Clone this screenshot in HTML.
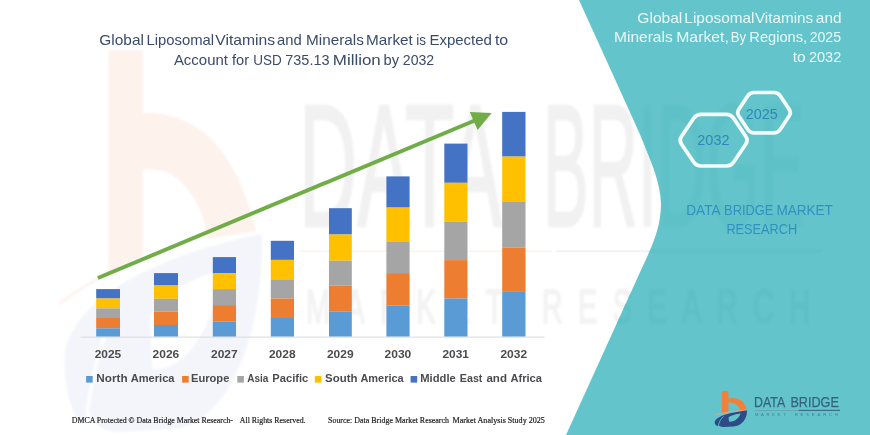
<!DOCTYPE html>
<html lang="en">
<head>
<meta charset="utf-8">
<title>Global Liposomal Vitamins and Minerals Market</title>
<style>
html,body{margin:0;padding:0;background:#fff;}
body{width:870px;height:435px;overflow:hidden;position:relative;font-family:"Liberation Sans",sans-serif;}
svg{position:absolute;left:0;top:0;display:block;}
.sans{font-family:"Liberation Sans",sans-serif;}
.serif{font-family:"Liberation Serif",serif;}
</style>
</head>
<body>
<svg width="870" height="435" viewBox="0 0 870 435">
<rect width="870" height="435" fill="#ffffff"/>

<!-- faint watermark: big b logo -->
<defs><filter id="soft" x="-5%" y="-5%" width="110%" height="110%"><feGaussianBlur stdDeviation="0.9"/></filter></defs>
<g filter="url(#soft)">
<path d="M108.3 50.3 H142.8 V113.4 C165 111 196 121 214.5 142.4 C232 162 247 192 256 231 L207 239 C205 212 191 187 170.3 173.5 C162 169.5 152 169 142.8 170 V256 L108.3 272 Z" fill="#FDF2EC"/>
<path d="M59 304 C80 288 100 277 118 268" fill="none" stroke="#FDF3EE" stroke-width="3"/>
<g transform="translate(262,234) scale(6.1,12) translate(-747,-410.4)">
<path d="M714.7 420.2 C716.5 415.5 731 412 747 410.4 C747.3 418.5 742 425.6 733.5 426.6 L723.5 426.9 C720.5 426.9 719 426 718.6 425 L717.6 426.3 C715.5 425.5 714.3 422.5 714.7 420.2 Z M728.6 417.3 L729 421.6 C733 422 738.5 419.5 740.6 413.4 C735.5 414 731 415.3 728.6 417.3 Z" fill="#F3F5FA" fill-rule="evenodd"/>
<path d="M718.3 425.6 C719.2 421.5 721 418.6 723.6 416.3" fill="none" stroke="#ffffff" stroke-width="0.5"/>
</g>
</g>
<!-- faint watermark text -->
<g class="sans" fill="#F1F1F1" stroke="#F1F1F1" stroke-width="2.5" stroke-linejoin="round" filter="url(#soft)">
<text x="299" y="226" font-size="174" textLength="203" lengthAdjust="spacingAndGlyphs">DATA</text>
<text x="543" y="226" font-size="174" textLength="262" lengthAdjust="spacingAndGlyphs">BRIDGE</text>
<text transform="translate(306,323) scale(0.6,1)" font-size="48" textLength="840" lengthAdjust="spacing" fill="#F3F3F3" stroke="#F3F3F3" stroke-width="2">MARKET RESEARCH</text>
</g>
<rect x="300" y="250.6" width="252" height="1.2" fill="#FCEFE6"/>
<rect x="556" y="250.4" width="110" height="1.6" fill="#EEF0F5"/>

<!-- teal panel -->
<path id="teal" d="M579 0 L633.5 120 C645 146 661 180 661 204 C661 232 648 254 636.5 280 L566 435 L870 435 L870 0 Z" fill="#63C5CB"/>
<!-- watermark continuing on teal -->
<g class="sans" fill="#5FC1C8" stroke="#5FC1C8" stroke-width="2.5" clip-path="url(#tealclip)" filter="url(#soft)">
<text x="299" y="226" font-size="174" textLength="203" lengthAdjust="spacingAndGlyphs">DATA</text>
<text x="543" y="226" font-size="174" textLength="262" lengthAdjust="spacingAndGlyphs">BRIDGE</text>
<text transform="translate(306,323) scale(0.6,1)" font-size="48" textLength="840" lengthAdjust="spacing" fill="#5EC0C7" stroke="#5EC0C7" stroke-width="2">MARKET RESEARCH</text>
<rect x="556" y="250.4" width="266" height="1.6" fill="#5CBEC6" stroke="none"/>
</g>
<defs><clipPath id="tealclip"><path d="M579 0 L633.5 120 C645 146 661 180 661 204 C661 232 648 254 636.5 280 L566 435 L870 435 L870 0 Z"/></clipPath></defs>

<!-- chart -->
<rect x="80.5" y="336.6" width="464" height="1" fill="#D9D9D9"/>
<rect x="96.2" y="289.1" width="23.8" height="9.4" fill="#4472C4"/>
<rect x="96.2" y="298.5" width="23.8" height="9.9" fill="#FFC000"/>
<rect x="96.2" y="308.4" width="23.8" height="9.6" fill="#A5A5A5"/>
<rect x="96.2" y="318.0" width="23.8" height="10.3" fill="#ED7D31"/>
<rect x="96.2" y="328.3" width="23.8" height="8.2" fill="#5B9BD5"/>
<rect x="154.0" y="273.1" width="24.0" height="12.4" fill="#4472C4"/>
<rect x="154.0" y="285.5" width="24.0" height="13.3" fill="#FFC000"/>
<rect x="154.0" y="298.8" width="24.0" height="12.9" fill="#A5A5A5"/>
<rect x="154.0" y="311.7" width="24.0" height="13.3" fill="#ED7D31"/>
<rect x="154.0" y="325.0" width="24.0" height="11.5" fill="#5B9BD5"/>
<rect x="212.8" y="257.1" width="23.2" height="16.0" fill="#4472C4"/>
<rect x="212.8" y="273.1" width="23.2" height="16.0" fill="#FFC000"/>
<rect x="212.8" y="289.1" width="23.2" height="16.0" fill="#A5A5A5"/>
<rect x="212.8" y="305.1" width="23.2" height="16.3" fill="#ED7D31"/>
<rect x="212.8" y="321.4" width="23.2" height="15.1" fill="#5B9BD5"/>
<rect x="270.8" y="240.8" width="23.2" height="19.1" fill="#4472C4"/>
<rect x="270.8" y="259.9" width="23.2" height="20.1" fill="#FFC000"/>
<rect x="270.8" y="280.0" width="23.2" height="18.5" fill="#A5A5A5"/>
<rect x="270.8" y="298.5" width="23.2" height="19.5" fill="#ED7D31"/>
<rect x="270.8" y="318.0" width="23.2" height="18.5" fill="#5B9BD5"/>
<rect x="329.0" y="208.2" width="22.8" height="26.3" fill="#4472C4"/>
<rect x="329.0" y="234.5" width="22.8" height="26.2" fill="#FFC000"/>
<rect x="329.0" y="260.7" width="22.8" height="24.8" fill="#A5A5A5"/>
<rect x="329.0" y="285.5" width="22.8" height="26.2" fill="#ED7D31"/>
<rect x="329.0" y="311.7" width="22.8" height="24.8" fill="#5B9BD5"/>
<rect x="386.4" y="176.4" width="23.2" height="31.2" fill="#4472C4"/>
<rect x="386.4" y="207.6" width="23.2" height="33.8" fill="#FFC000"/>
<rect x="386.4" y="241.4" width="23.2" height="31.7" fill="#A5A5A5"/>
<rect x="386.4" y="273.1" width="23.2" height="32.3" fill="#ED7D31"/>
<rect x="386.4" y="305.4" width="23.2" height="31.1" fill="#5B9BD5"/>
<rect x="444.3" y="143.6" width="23.2" height="39.2" fill="#4472C4"/>
<rect x="444.3" y="182.8" width="23.2" height="38.7" fill="#FFC000"/>
<rect x="444.3" y="221.5" width="23.2" height="38.6" fill="#A5A5A5"/>
<rect x="444.3" y="260.1" width="23.2" height="38.4" fill="#ED7D31"/>
<rect x="444.3" y="298.5" width="23.2" height="38.0" fill="#5B9BD5"/>
<rect x="502.2" y="111.9" width="23.3" height="44.7" fill="#4472C4"/>
<rect x="502.2" y="156.6" width="23.3" height="44.8" fill="#FFC000"/>
<rect x="502.2" y="201.4" width="23.3" height="46.0" fill="#A5A5A5"/>
<rect x="502.2" y="247.4" width="23.3" height="44.5" fill="#ED7D31"/>
<rect x="502.2" y="291.9" width="23.3" height="44.6" fill="#5B9BD5"/>
<g class="sans" font-size="11.2" font-weight="bold" fill="#4C4C50">
<text x="94.68" y="358.1" textLength="26.51" lengthAdjust="spacingAndGlyphs">2025</text>
<text x="152.58" y="358.1" textLength="26.63" lengthAdjust="spacingAndGlyphs">2026</text>
<text x="210.98" y="358.1" textLength="26.70" lengthAdjust="spacingAndGlyphs">2027</text>
<text x="268.98" y="358.1" textLength="26.57" lengthAdjust="spacingAndGlyphs">2028</text>
<text x="326.98" y="358.1" textLength="26.63" lengthAdjust="spacingAndGlyphs">2029</text>
<text x="384.58" y="358.1" textLength="26.70" lengthAdjust="spacingAndGlyphs">2030</text>
<text x="442.48" y="358.1" textLength="26.51" lengthAdjust="spacingAndGlyphs">2031</text>
<text x="500.43" y="358.1" textLength="26.70" lengthAdjust="spacingAndGlyphs">2032</text>
</g>

<!-- legend -->
<g class="sans" font-size="10.9" font-weight="bold" fill="#4C4C50">
<rect x="86.1" y="376" width="6.6" height="6.6" fill="#5B9BD5"/>
<text x="96.34" y="382.3" textLength="31.28" lengthAdjust="spacingAndGlyphs">North</text>
<text x="130.72" y="382.3" textLength="43.79" lengthAdjust="spacingAndGlyphs">America</text>
<rect x="182.1" y="376" width="6.6" height="6.6" fill="#ED7D31"/>
<text x="190.98" y="382.3" textLength="38.41" lengthAdjust="spacingAndGlyphs">Europe</text>
<rect x="237.3" y="376" width="6.6" height="6.6" fill="#A5A5A5"/>
<text x="247.15" y="382.3" textLength="21.17" lengthAdjust="spacingAndGlyphs">Asia</text>
<text x="272.38" y="382.3" textLength="35.85" lengthAdjust="spacingAndGlyphs">Pacific</text>
<rect x="314.8" y="376" width="6.6" height="6.6" fill="#FFC000"/>
<text x="325.06" y="382.3" textLength="32.46" lengthAdjust="spacingAndGlyphs">South</text>
<text x="360.43" y="382.3" textLength="43.18" lengthAdjust="spacingAndGlyphs">America</text>
<rect x="410.6" y="376" width="6.6" height="6.6" fill="#4472C4"/>
<text x="420.27" y="382.3" textLength="35.54" lengthAdjust="spacingAndGlyphs">Middle</text>
<text x="459.80" y="382.3" textLength="22.63" lengthAdjust="spacingAndGlyphs">East</text>
<text x="486.45" y="382.3" textLength="20.53" lengthAdjust="spacingAndGlyphs">and</text>
<text x="510.42" y="382.3" textLength="31.56" lengthAdjust="spacingAndGlyphs">Africa</text>
</g>

<!-- arrow -->
<line x1="97.9" y1="278" x2="476" y2="119.95" stroke="#70AD47" stroke-width="3.9"/>
<polygon points="491.7,112.9 469.8,111.9 477.6,129.9" fill="#70AD47"/>

<!-- chart title -->
<g class="sans" font-size="14.8" fill="#3A4B6B">
<text x="99.33" y="45.3" textLength="44.58" lengthAdjust="spacingAndGlyphs">Global</text>
<text x="146.51" y="45.3" textLength="67.60" lengthAdjust="spacingAndGlyphs">Liposomal</text>
<text x="215.32" y="45.3" textLength="59.85" lengthAdjust="spacingAndGlyphs">Vitamins</text>
<text x="277.11" y="45.3" textLength="24.71" lengthAdjust="spacingAndGlyphs">and</text>
<text x="306.08" y="45.3" textLength="57.84" lengthAdjust="spacingAndGlyphs">Minerals</text>
<text x="366.07" y="45.3" textLength="46.82" lengthAdjust="spacingAndGlyphs">Market</text>
<text x="416.33" y="45.3" textLength="9.67" lengthAdjust="spacingAndGlyphs">is</text>
<text x="429.40" y="45.3" textLength="62.57" lengthAdjust="spacingAndGlyphs">Expected</text>
<text x="494.96" y="45.3" textLength="13.26" lengthAdjust="spacingAndGlyphs">to</text>
<text x="173.90" y="65.3" textLength="54.02" lengthAdjust="spacingAndGlyphs">Account</text>
<text x="231.98" y="65.3" textLength="17.07" lengthAdjust="spacingAndGlyphs">for</text>
<text x="253.29" y="65.3" textLength="28.54" lengthAdjust="spacingAndGlyphs">USD</text>
<text x="285.28" y="65.3" textLength="44.28" lengthAdjust="spacingAndGlyphs">735.13</text>
<text x="332.85" y="65.3" textLength="47.94" lengthAdjust="spacingAndGlyphs">Million</text>
<text x="383.44" y="65.3" textLength="15.58" lengthAdjust="spacingAndGlyphs">by</text>
<text x="402.79" y="65.3" textLength="31.41" lengthAdjust="spacingAndGlyphs">2032</text>
</g>

<!-- footer -->
<g class="serif" font-size="8.5" fill="#1c1c1c" stroke="#1c1c1c" stroke-width="0.2">
<text x="71.7" y="422.7" textLength="161.3" lengthAdjust="spacingAndGlyphs">DMCA Protected © Data Bridge Market Research-</text>
<text x="239.8" y="422.7" textLength="65.8" lengthAdjust="spacingAndGlyphs">All Rights Reserved.</text>
<text x="328" y="422.7" textLength="121" lengthAdjust="spacingAndGlyphs">Source: Data Bridge Market Research</text>
<text x="452.6" y="422.7" textLength="92.3" lengthAdjust="spacingAndGlyphs">Market Analysis Study 2025</text>
</g>

<!-- right panel title -->
<g class="sans" font-size="14.8" fill="#EAF8F9">
<text x="637.32" y="22.7" textLength="45.00" lengthAdjust="spacingAndGlyphs">Global</text>
<text x="684.37" y="22.7" textLength="70.18" lengthAdjust="spacingAndGlyphs">Liposomal</text>
<text x="754.92" y="22.7" textLength="58.34" lengthAdjust="spacingAndGlyphs">Vitamins</text>
<text x="815.88" y="22.7" textLength="25.67" lengthAdjust="spacingAndGlyphs">and</text>
<text x="614.06" y="42.0" textLength="58.67" lengthAdjust="spacingAndGlyphs">Minerals</text>
<text x="676.24" y="42.0" textLength="52.57" lengthAdjust="spacingAndGlyphs">Market,</text>
<text x="730.65" y="42.0" textLength="15.38" lengthAdjust="spacingAndGlyphs">By</text>
<text x="749.33" y="42.0" textLength="57.85" lengthAdjust="spacingAndGlyphs">Regions,</text>
<text x="809.70" y="42.0" textLength="31.36" lengthAdjust="spacingAndGlyphs">2025</text>
<text x="792.77" y="61.8" textLength="12.94" lengthAdjust="spacingAndGlyphs">to</text>
<text x="808.98" y="61.8" textLength="32.24" lengthAdjust="spacingAndGlyphs">2032</text>
</g>

<!-- hexagons -->
<g fill="none" stroke="#F4FCFC" stroke-width="3.7" stroke-linejoin="round">
<path d="M681.42 143.93 Q678.90 140.20 681.42 136.47 L693.78 118.13 Q696.30 114.40 700.80 114.40 L726.50 114.40 Q731.00 114.40 733.52 118.13 L745.88 136.47 Q748.40 140.20 745.88 143.93 L733.52 162.27 Q731.00 166.00 726.50 166.00 L700.80 166.00 Q696.30 166.00 693.78 162.27 Z"/>
<path d="M738.81 116.03 Q736.60 112.70 738.81 109.37 L747.79 95.83 Q750.00 92.50 754.00 92.50 L774.00 92.50 Q778.00 92.50 780.21 95.83 L789.19 109.37 Q791.40 112.70 789.19 116.03 L780.21 129.57 Q778.00 132.90 774.00 132.90 L754.00 132.90 Q750.00 132.90 747.79 129.57 Z"/>
</g>
<g class="sans" font-size="14.7" fill="#2F87B7">
<text x="697.28" y="145.1" textLength="32.24" lengthAdjust="spacingAndGlyphs">2032</text>
<text x="745.78" y="118.7" textLength="32.09" lengthAdjust="spacingAndGlyphs">2025</text>
</g>

<!-- DATA BRIDGE MARKET RESEARCH -->
<g class="sans" font-size="14.4" fill="#3190BF">
<text x="686.31" y="214.8" textLength="34.24" lengthAdjust="spacingAndGlyphs">DATA</text>
<text x="724.07" y="214.8" textLength="49.40" lengthAdjust="spacingAndGlyphs">BRIDGE</text>
<text x="776.42" y="214.8" textLength="56.49" lengthAdjust="spacingAndGlyphs">MARKET</text>
<text x="726.38" y="233.7" textLength="70.86" lengthAdjust="spacingAndGlyphs">RESEARCH</text>
</g>

<!-- logo -->
<g>
<path d="M721.8 391.8 Q721.8 391.1 722.5 391.1 L727.7 391.1 Q728.4 391.1 728.4 391.8 L728.4 398.5 C736 396.6 744.3 400 746 407.6 C746.3 408.8 746.3 409.6 746.1 410.3 L740.3 411 C739.6 405.6 734 401.6 728.4 402.6 L728.4 412.3 L721.8 413 Z" fill="#F0803A"/>
<path d="M715.6 415 C722 412.6 736 410.6 746.3 410.2" fill="none" stroke="#F2A46E" stroke-width="0.9"/>
<path d="M714.7 421.6 C716.5 416 731 412 747 410.4 C747.3 418.5 742 425.6 733.5 426.6 L723.5 426.9 C720.5 426.9 719 426 718.6 425 L717.6 426.3 C715.5 425.5 714.3 423.5 714.7 421.6 Z M728.6 417.3 L729 421.6 C733 422 738.5 419.5 740.6 413.4 C735.5 414 731 415.3 728.6 417.3 Z" fill="#2D4B87" fill-rule="evenodd"/>
<path d="M718.3 425.6 C719.2 421.5 721 418.6 723.6 416.3" fill="none" stroke="#63C5CB" stroke-width="0.8"/>
</g>
<g class="sans" fill="#35637F">
<g font-size="14.8" stroke="#35637F" stroke-width="0.25">
<text x="754.01" y="407.4" textLength="31.13" lengthAdjust="spacingAndGlyphs">DATA</text>
<text x="790.39" y="407.4" textLength="48.47" lengthAdjust="spacingAndGlyphs">BRIDGE</text>
</g>
<rect x="755" y="410.1" width="44" height="0.6" fill="#6E93A6"/>
<rect x="798.6" y="409.8" width="41.4" height="1.2" fill="#3F6E8A"/>
<g font-size="4.2" fill="#4B7A92" letter-spacing="2.6">
<text x="755" y="416.4">MARKET</text>
<text x="794.7" y="416.4" letter-spacing="2.85">RESEARCH</text>
</g>
</g>
</svg>
</body>
</html>
